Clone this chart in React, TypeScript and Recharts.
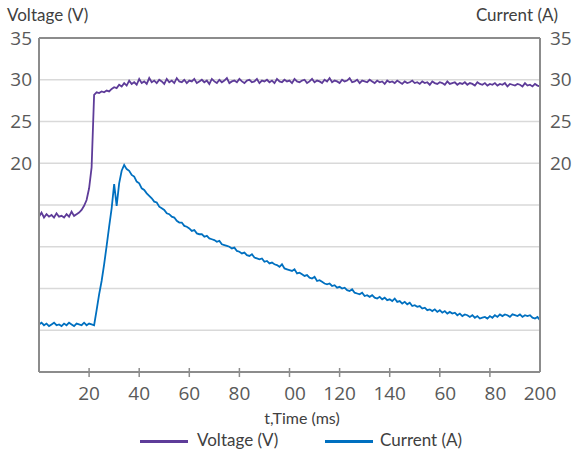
import React from 'react';
import { ComposedChart, Line, XAxis, YAxis, CartesianGrid, ReferenceLine, Legend } from 'recharts';

// sampling grid, 1 ms steps
const timeMs: number[] = Array.from({ length: 201 }, (_, i) => i);

const voltage: number[] = [
  13.6, 14.1, 13.5, 13.9, 13.6, 13.8, 13.5, 14.0, 13.6, 13.7,
  13.5, 13.9, 13.6, 14.2, 13.7, 13.9, 14.1, 14.4, 14.9, 15.6,
  17.0, 19.5, 28.2, 28.5, 28.4, 28.6, 28.5, 28.7, 28.6, 28.9,
  29.1, 29.0, 29.4, 29.2, 29.6, 29.3, 29.9, 29.5, 29.7, 29.4,
  30.1, 29.6, 29.8, 29.5, 30.2, 29.7, 29.9, 29.6, 30.0, 29.8,
  29.5, 30.1, 29.7, 29.9, 29.6, 30.2, 29.8, 29.7, 30.0, 29.6,
  29.9, 29.8, 30.1, 29.6, 29.8, 30.0, 29.7, 29.9, 29.5, 30.1,
  29.8, 29.6, 30.0, 29.7, 29.9, 30.2, 29.6, 29.8, 29.9, 29.7,
  30.1, 29.8, 29.6, 29.9, 30.0, 29.7, 29.8, 30.1, 29.6, 29.9,
  29.8, 30.0, 29.7, 29.9, 29.6, 30.1, 29.8, 29.7, 30.0, 29.8,
  29.9, 29.6, 30.1, 29.8, 29.7, 29.9, 30.0, 29.6, 29.8, 30.1,
  29.7, 29.9, 29.8, 29.6, 30.0, 29.8, 30.2, 29.7, 29.9, 29.8,
  29.6, 30.0, 29.8, 29.9, 30.2, 29.7, 29.8, 30.0, 29.6, 29.9,
  29.8, 29.7, 30.0, 29.8, 29.6, 29.9, 29.7, 29.8, 29.5, 29.9,
  29.7, 29.8, 29.6, 29.9, 29.7, 29.5, 29.8, 29.6, 29.7, 29.9,
  29.6, 29.7, 29.5, 29.8, 29.6, 29.7, 29.4, 29.8, 29.6, 29.5,
  29.7, 29.6, 29.4, 29.8, 29.5, 29.6, 29.7, 29.4, 29.6, 29.5,
  29.7, 29.4, 29.6, 29.5, 29.3, 29.7, 29.5, 29.4, 29.6, 29.3,
  29.5, 29.4, 29.6, 29.3, 29.5, 29.4, 29.6, 29.2, 29.5, 29.4,
  29.3, 29.5, 29.4, 29.2, 29.6, 29.3, 29.4, 29.2, 29.5, 29.3,
  29.2,
];

const current: number[] = [
  0.7, 0.9, 0.6, 0.8, 0.5, 0.7, 0.9, 0.6, 0.7, 0.5,
  0.8, 0.6, 0.9, 0.7, 0.5, 0.8, 0.7, 0.6, 0.9, 0.6,
  0.8, 0.7, 0.6, 2.4, 4.3, 5.9, 7.9, 10.1, 12.4, 14.6,
  17.5, 14.9, 17.6, 19.1, 19.8, 19.3, 19.1, 18.6, 18.4, 17.8,
  17.6, 17.0, 16.8, 16.4, 16.1, 15.8, 15.4, 15.3, 14.8, 14.6,
  14.4, 14.0, 13.9, 13.6, 13.5, 13.1, 12.9, 12.9, 12.5, 12.4,
  12.2, 11.9, 12.0, 11.6, 11.5, 11.5, 11.2, 11.3, 11.0, 10.9,
  10.8, 10.6, 10.7, 10.3, 10.2, 10.1, 10.0, 9.8, 9.9, 9.5,
  9.4, 9.2, 9.3, 9.0, 8.9, 9.1, 8.7, 8.6, 8.5, 8.6,
  8.2, 8.3, 8.0, 8.1, 7.9, 7.8, 7.6, 7.9, 7.4, 7.3,
  7.2, 7.1, 7.3, 6.8, 6.9, 6.7, 6.5, 6.6, 6.3, 6.2,
  6.4, 5.9, 6.0, 5.8, 5.6, 5.5, 5.6, 5.3, 5.4, 5.1,
  5.2, 5.0, 5.1, 4.8, 4.7, 4.9, 4.5, 4.4, 4.3, 4.5,
  4.1, 4.2, 4.0, 4.2, 3.9, 3.8, 4.0, 3.7, 3.9, 3.6,
  3.7, 3.5, 3.8, 3.4, 3.5, 3.2, 3.4, 3.1, 3.3, 2.9,
  3.0, 2.8, 2.9, 2.6, 2.7, 2.4, 2.5, 2.3, 2.5, 2.2,
  2.4, 2.1, 2.3, 2.0, 2.2, 2.0, 2.1, 1.8, 2.0, 1.7,
  1.9, 1.8, 1.6, 1.8, 1.5, 1.7, 1.4, 1.5, 1.6, 1.4,
  1.7, 1.5, 1.8, 1.6, 1.9, 1.7, 1.9, 1.8, 1.6, 1.9,
  1.8, 1.7, 1.9, 1.6, 1.8, 1.7, 1.8, 1.5, 1.4, 1.6,
  1.2,
];

const xTicks: number[] = [20, 40, 60, 80, 100, 120, 140, 160, 180, 200];
const xTickLabels: string[] = ['20', '40', '60', '80', '00', '120', '140', '60', '80', '200'];
const yTicks: number[] = [-5, 0, 5, 10, 15, 20, 25, 30, 35];
const yLabelMin = 20;

const data = timeMs.map((t, i) => ({ t, voltage: voltage[i], current: current[i] }));

const AXIS_GRAY = '#8c8c8c';
const NUM_FONT = "'Open Sans', sans-serif";
const TXT_FONT = "Lato, sans-serif";
const VOLT_COLOR = '#5e3c99';
const CURR_COLOR = '#0070c0';

const XTick = (props: any) => {
  const { x, y, payload } = props;
  const idx = xTicks.indexOf(payload.value);
  const label = idx >= 0 ? xTickLabels[idx] : String(payload.value);
  const full = String(payload.value);
  const shift = label.length < full.length ? (full.length - label.length) * 5.5 : 0;
  return (
    <g>
      {payload.value !== 200 && (
        <line x1={x} x2={x} y1={y - 4} y2={y + 5} stroke={AXIS_GRAY} strokeWidth={1.5} />
      )}
      <text x={x + shift} y={y + 28} textAnchor="middle" fill="#595959" fontSize={19} fontFamily={NUM_FONT}>
        {label}
      </text>
    </g>
  );
};

const yFmt = (v: number) => (v >= yLabelMin ? String(v) : '');

const LegendContent = () => (
  <div style={{ position: 'relative', width: 576, height: 24, fontFamily: TXT_FONT, fontSize: 17, color: '#404040' }}>
    <div style={{ position: 'absolute', left: 140, top: 11, width: 48, height: 3, background: VOLT_COLOR }} />
    <div style={{ position: 'absolute', left: 197, top: 0, whiteSpace: 'nowrap' }}>Voltage (V)</div>
    <div style={{ position: 'absolute', left: 325, top: 11, width: 48, height: 3, background: CURR_COLOR }} />
    <div style={{ position: 'absolute', left: 380, top: 0, whiteSpace: 'nowrap' }}>Current (A)</div>
  </div>
);

export default function App() {
  return (
    <div style={{ position: 'absolute', left: 0, top: 0 }}>
      <ComposedChart width={576} height={455} data={data} margin={{ top: 38, right: 0, bottom: 0, left: 0 }}>
        <CartesianGrid horizontal vertical={false} stroke="#d9d9d9" strokeWidth={1.5} yAxisId="v" />
        <XAxis
          dataKey="t"
          type="number"
          domain={[0, 200]}
          ticks={xTicks}
          interval={0}
          height={83}
          tickSize={0}
          tickMargin={0}
          tickLine={false}
          axisLine={{ stroke: AXIS_GRAY, strokeWidth: 2 }}
          tick={<XTick />}
          label={{
            content: () => (
              <text x={302} y={424} textAnchor="middle" fill="#404040" fontSize={16} fontFamily={TXT_FONT}>
                t,Time (ms)
              </text>
            ),
          }}
        />
        <YAxis
          yAxisId="v"
          orientation="left"
          width={39}
          domain={[-5, 35]}
          ticks={yTicks}
          interval={0}
          tickSize={0}
          tickMargin={7}
          tickLine={false}
          tickFormatter={yFmt}
          axisLine={{ stroke: AXIS_GRAY, strokeWidth: 2 }}
          tick={{ fill: '#595959', fontSize: 19, fontFamily: NUM_FONT }}
          label={{
            content: () => (
              <text x={7} y={21} textAnchor="start" fill="#404040" fontSize={17} fontFamily={TXT_FONT}>
                Voltage (V)
              </text>
            ),
          }}
        />
        <YAxis
          yAxisId="c"
          orientation="right"
          width={36}
          domain={[-5, 35]}
          ticks={yTicks}
          interval={0}
          tickSize={0}
          tickMargin={10}
          tickLine={false}
          tickFormatter={yFmt}
          axisLine={{ stroke: AXIS_GRAY, strokeWidth: 2 }}
          tick={{ fill: '#595959', fontSize: 19, fontFamily: NUM_FONT }}
          label={{
            content: () => (
              <text x={558} y={21} textAnchor="end" fill="#404040" fontSize={17} fontFamily={TXT_FONT}>
                Current (A)
              </text>
            ),
          }}
        />
        <ReferenceLine yAxisId="v" y={35} stroke={AXIS_GRAY} strokeWidth={2} />
        <Line
          yAxisId="v"
          dataKey="voltage"
          name="Voltage (V)"
          stroke={VOLT_COLOR}
          strokeWidth={1.8}
          dot={false}
          type="linear"
          isAnimationActive={false}
        />
        <Line
          yAxisId="c"
          dataKey="current"
          name="Current (A)"
          stroke={CURR_COLOR}
          strokeWidth={1.8}
          dot={false}
          type="linear"
          isAnimationActive={false}
        />
        <Legend
          layout="horizontal"
          verticalAlign="middle"
          align="center"
          content={<LegendContent />}
          wrapperStyle={{ position: 'absolute', top: 429, left: 0, width: 576 }}
        />
      </ComposedChart>
    </div>
  );
}
